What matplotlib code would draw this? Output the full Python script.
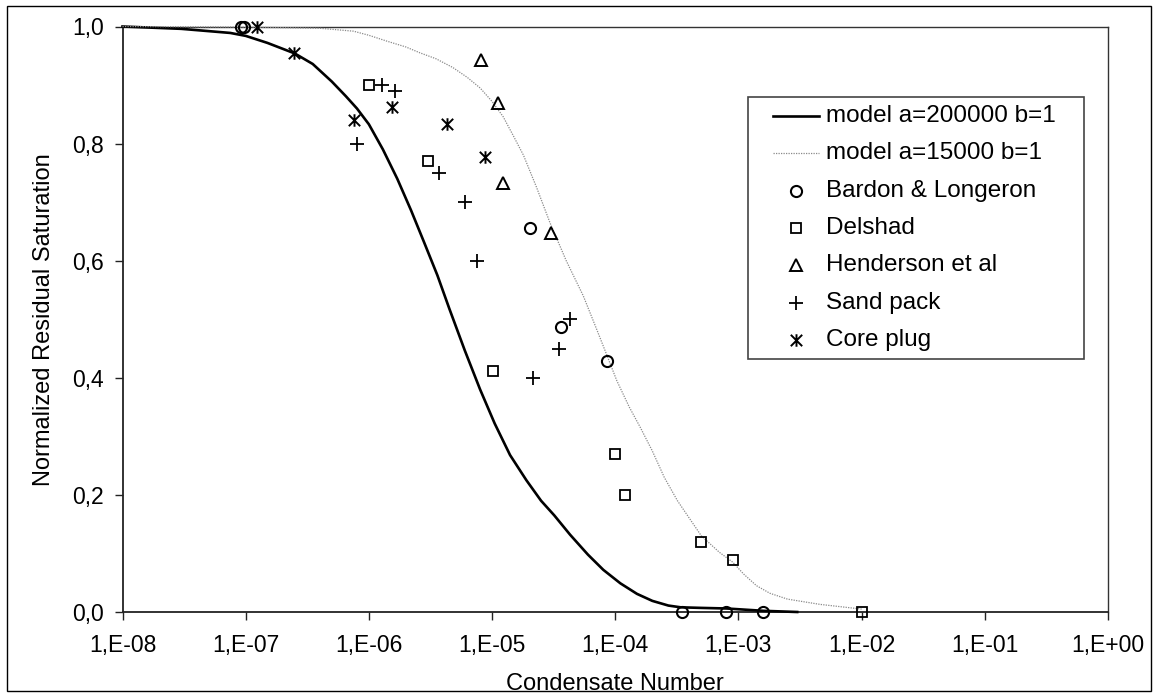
import matplotlib
matplotlib.use("Agg")
import matplotlib.pyplot as plt
from matplotlib.path import Path
from matplotlib.lines import Line2D
from matplotlib.patches import Rectangle

plt.rcParams['font.family'] = ['Liberation Sans', 'DejaVu Sans']

# ---------------- data ----------------
x_ticks = [1e-8, 1e-7, 1e-6, 1e-5, 1e-4, 1e-3, 1e-2, 1e-1, 1e0]
x_tick_labels = ['1,E-08', '1,E-07', '1,E-06', '1,E-05', '1,E-04',
                 '1,E-03', '1,E-02', '1,E-01', '1,E+00']
y_ticks = [0.0, 0.2, 0.4, 0.6, 0.8, 1.0]
y_tick_labels = ['0,0', '0,2', '0,4', '0,6', '0,8', '1,0']

model1_x = [1e-8, 3e-8, 7.5e-8, 1e-7, 1.5e-7, 2.5e-7, 3.5e-7, 5e-7, 6.5e-7,
            8e-7, 1e-6, 1.3e-6, 1.7e-6, 2.2e-6, 2.8e-6, 3.6e-6, 4.5e-6,
            6e-6, 8e-6, 1.05e-5, 1.4e-5, 1.9e-5, 2.5e-5, 3.2e-5, 4.3e-5,
            6e-5, 8e-5, 1.1e-4, 1.5e-4, 2e-4, 2.7e-4, 3.4e-4, 5e-4, 8e-4,
            1.6e-3, 3e-3]
model1_y = [1.000, 0.996, 0.989, 0.984, 0.972, 0.954, 0.936, 0.906, 0.881,
            0.860, 0.833, 0.790, 0.740, 0.686, 0.632, 0.575, 0.518,
            0.447, 0.380, 0.322, 0.268, 0.225, 0.190, 0.165, 0.132,
            0.098, 0.072, 0.049, 0.031, 0.019, 0.011, 0.008, 0.007, 0.006,
            0.002, 0.000]

model2_x = [1e-8, 1e-7, 4e-7, 7.5e-7, 1e-6, 1.4e-6, 2e-6, 2.6e-6, 3.5e-6,
            4.8e-6, 6.3e-6, 8e-6, 1e-5, 1.23e-5, 1.5e-5, 1.8e-5, 2.3e-5,
            2.95e-5, 4e-5, 5.5e-5, 7e-5, 8.5e-5, 1.03e-4, 1.3e-4, 1.6e-4,
            2e-4, 2.5e-4, 3.2e-4, 4e-4, 5e-4, 7e-4, 9e-4, 1.1e-3, 1.4e-3,
            1.8e-3, 2.5e-3, 4.6e-3, 1e-2]
model2_y = [1.000, 0.999, 0.997, 0.992, 0.985, 0.975, 0.965, 0.955, 0.945,
            0.930, 0.913, 0.895, 0.872, 0.846, 0.812, 0.780, 0.725,
            0.665, 0.600, 0.540, 0.485, 0.440, 0.395, 0.350, 0.315,
            0.275, 0.230, 0.190, 0.160, 0.130, 0.102, 0.085, 0.065, 0.045,
            0.032, 0.022, 0.013, 0.005]

bardon_x = [9.1e-8, 9.7e-8, 2.04e-5, 3.6e-5, 8.5e-5, 3.46e-4, 7.9e-4, 1.59e-3]
bardon_y = [1.0, 1.0, 0.656, 0.486, 0.429, 0.0, 0.0, 0.0]

delshad_x = [1.0e-6, 3.0e-6, 1.01e-5, 1.0e-4, 1.2e-4, 5.0e-4, 9.1e-4, 1e-2]
delshad_y = [0.900, 0.770, 0.412, 0.270, 0.199, 0.119, 0.089, 0.0]

henderson_x = [8.1e-6, 1.11e-5, 1.23e-5, 3.0e-5]
henderson_y = [0.943, 0.869, 0.733, 0.648]

sand_x = [7.96e-7, 1.29e-6, 1.64e-6, 3.7e-6, 6.03e-6, 7.5e-6, 2.15e-5, 3.47e-5, 4.29e-5]
sand_y = [0.799, 0.900, 0.890, 0.749, 0.700, 0.600, 0.400, 0.449, 0.500]

core_x = [1.23e-7, 2.47e-7, 7.6e-7, 1.53e-6, 4.33e-6, 8.75e-6]
core_y = [1.0, 0.954, 0.840, 0.862, 0.834, 0.777]

labels = ['model a=200000 b=1', 'model a=15000 b=1', 'Bardon & Longeron',
          'Delshad', 'Henderson et al', 'Sand pack', 'Core plug']

# ---------------- figure ----------------
W, H = 1155, 698
fig = plt.figure(figsize=(W / 100, H / 100), dpi=100)
fig.patch.set_facecolor('white')

def fx(px):
    return px / W

def fy(py):
    return 1 - py / H

# outer frame
fig.add_artist(Rectangle((fx(7), fy(691)), fx(1151) - fx(7), fy(6) - fy(691),
                         transform=fig.transFigure, fill=False,
                         edgecolor='black', linewidth=1.0))

ax = fig.add_axes([fx(122.5), fy(612), fx(1108) - fx(122.5), fy(26.5) - fy(612)])
ax.set_xscale('log')
ax.set_xlim(1e-8, 1e0)
ax.set_ylim(0, 1)

star = Path([(-1, -1), (1, 1), (-1, 1), (1, -1), (0, -1.1), (0, 1.1)],
            [Path.MOVETO, Path.LINETO, Path.MOVETO, Path.LINETO, Path.MOVETO, Path.LINETO])

styles = [
    dict(color='black', linestyle='-', linewidth=1.9, marker=None),
    dict(color='#8a8a8a', linestyle=(0, (1, 1)), linewidth=0.9, marker=None),
    dict(color='black', linestyle='none', marker='o', markersize=8, markerfacecolor='none', markeredgewidth=1.5),
    dict(color='black', linestyle='none', marker='s', markersize=7, markerfacecolor='none', markeredgewidth=1.3),
    dict(color='black', linestyle='none', marker='^', markersize=8, markerfacecolor='none', markeredgewidth=1.4),
    dict(color='black', linestyle='none', marker='+', markersize=9.5, markeredgewidth=1.3),
    dict(color='black', linestyle='none', marker=star, markersize=9, markeredgewidth=1.4),
]

series = [(model1_x, model1_y), (model2_x, model2_y), (bardon_x, bardon_y),
          (delshad_x, delshad_y), (henderson_x, henderson_y),
          (sand_x, sand_y), (core_x, core_y)]

for (xs, ys), st, lab in zip(series, styles, labels):
    ax.plot(xs, ys, clip_on=False, zorder=3, label=lab,
            solid_joinstyle='round', **st)

# axes styling
for side in ['left', 'bottom']:
    ax.spines[side].set_linewidth(1.3)
    ax.spines[side].set_color('#222222')
for side in ['top', 'right']:
    ax.spines[side].set_linewidth(1.0)
    ax.spines[side].set_color('#333333')

ax.set_xticks(x_ticks)
ax.set_xticklabels(x_tick_labels)
ax.xaxis.set_minor_locator(matplotlib.ticker.NullLocator())
ax.set_yticks(y_ticks)
ax.set_yticklabels(y_tick_labels)
ax.tick_params(axis='both', direction='out', length=5.5, width=1.0, labelsize=16.5,
               color='#222222')
ax.tick_params(axis='x', pad=10)
ax.tick_params(axis='y', pad=8)
ax.tick_params(top=False, right=False)

ax.set_xlabel('Condensate Number', fontsize=17)
ax.set_ylabel('Normalized Residual Saturation', fontsize=17)
ax.xaxis.set_label_coords(0.5, -0.105)
ax.yaxis.set_label_coords(-0.069, 0.5)

# ---------------- legend (drawn manually) ----------------
lx0, lx1, ly0, ly1 = 748, 1084, 97, 359
fig.add_artist(Rectangle((fx(lx0), fy(ly1)), fx(lx1) - fx(lx0), fy(ly0) - fy(ly1),
                         transform=fig.transFigure, facecolor='white',
                         edgecolor='#444444', linewidth=1.2, zorder=5))
row_h = (ly1 - ly0) / len(labels)
for i, (lab, st) in enumerate(zip(labels, styles)):
    cy = ly0 + row_h * (i + 0.5)
    if st['marker'] is None:
        fig.add_artist(Line2D([fx(773), fx(819)], [fy(cy), fy(cy)],
                              transform=fig.transFigure, zorder=6, **st))
    else:
        fig.add_artist(Line2D([fx(796)], [fy(cy)], transform=fig.transFigure,
                              zorder=6, **st))
    fig.text(fx(826), fy(cy), lab, fontsize=17.5, va='center', ha='left', zorder=7)

fig.savefig('out.png', dpi=100, facecolor='white')
